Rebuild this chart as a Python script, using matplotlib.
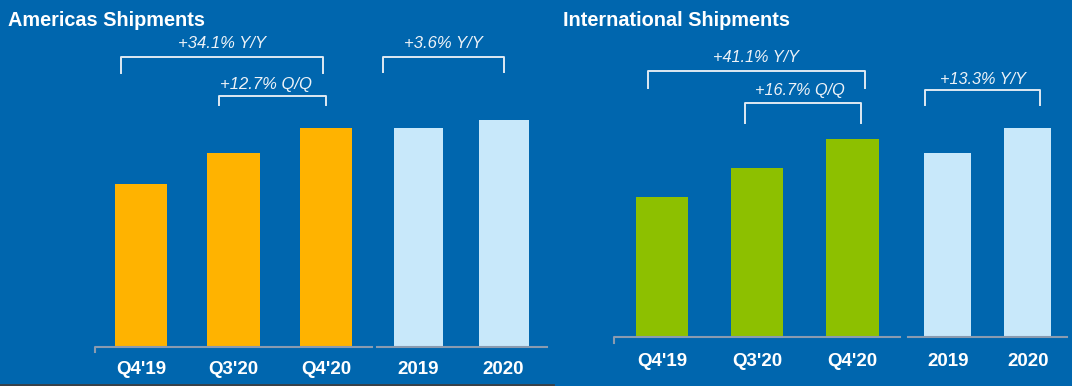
import matplotlib
matplotlib.use("Agg")
import matplotlib.pyplot as plt
from matplotlib.lines import Line2D

plt.rcParams['font.family'] = ['Liberation Sans', 'DejaVu Sans']

# ------------------------------------------------------------
# data (bar heights, same relative scale)
labels = ["Q4'19", "Q3'20", "Q4'20", "2019", "2020"]

amer_quarter = [163, 194, 219]
amer_annual = [219, 227]
intl_quarter = [140, 169, 198]
intl_annual = [184, 209]

amer_notes = ["+34.1% Y/Y", "+12.7% Q/Q", "+3.6% Y/Y"]
intl_notes = ["+41.1% Y/Y", "+16.7% Q/Q", "+13.3% Y/Y"]

# ------------------------------------------------------------
BG = '#0066ae'
ORANGE = '#ffb300'
GREEN = '#8dc000'
LIGHT = '#c8e8fa'
GRID = '#8a9bb0'
TXT = '#eef3f8'

W, H = 1072, 386
fig = plt.figure(figsize=(W / 100, H / 100), dpi=100)
fig.patch.set_facecolor(BG)


def bracket(ax, x0, x1, yb, yt):
    ax.plot([x0, x0, x1, x1], [yb, yt, yt, yb], color='#dfe9f2', lw=1.4,
            solid_joinstyle='round', clip_on=False)


def panel(rect, xlim, ylim, pos, widths, quarter, annual, qcolor,
          base, notes, note_pos, brackets, label_y, fs_note):
    ax = fig.add_axes(rect)
    ax.set_xlim(*xlim)
    ax.set_ylim(*ylim)
    ax.axis('off')

    vals = quarter + annual
    colors = [qcolor] * len(quarter) + [LIGHT] * len(annual)
    ax.bar(pos, vals, width=widths, color=colors, align='center', zorder=2)

    # baseline segments
    (l0, l1, tick), (r0, r1) = base
    ax.plot([l0, l0, l1], [tick, 0, 0], color=GRID, lw=1.5, clip_on=False)
    ax.plot([r0, r1], [0, 0], color=GRID, lw=1.5, clip_on=False)

    for x, lab in zip(pos, labels):
        ax.text(x, label_y, lab, ha='center', va='center', color='white',
                fontsize=13.5, fontweight='bold')

    for txt, (x, y) in zip(notes, note_pos):
        ax.text(x, y, txt, ha='center', va='center', color=TXT,
                fontsize=fs_note, style='italic')
    for b in brackets:
        bracket(ax, *b)
    return ax


# left panel: 1 x-unit = 92.5 px, 1 y-unit = 1 px, baseline at 347 px
panel([0, 0, 540 / W, 1], (-141 / 92.5, (540 - 141) / 92.5), (-39, 347),
      [0, 1, 2, 3, 3.92], [0.57, 0.57, 0.57, 0.54, 0.54],
      amer_quarter, amer_annual, ORANGE,
      ((-0.497, 2.497, -5), (2.551, 4.389)),
      amer_notes, [(0.876, 304), (1.346, 263), (3.27, 304)],
      [(-0.216, 1.968, 274, 290), (0.843, 2.0, 242, 251),
       (2.616, 3.924, 275, 290)],
      -23, 12)

# right panel: 1 x-unit = 95.25 px, baseline at 337 px
panel([540 / W, 0, 532 / W, 1], (-122 / 95.25, 410 / 95.25), (-49, 337),
      [0, 1, 2, 3, 3.84], [0.546, 0.546, 0.546, 0.49, 0.49],
      intl_quarter, intl_annual, GREEN,
      ((-0.504, 2.499, -6), (2.583, 4.252)),
      intl_notes, [(0.987, 279), (1.449, 246), (3.37, 258)],
      [(-0.147, 2.131, 249, 266), (0.871, 2.089, 214, 234),
       (2.761, 3.969, 232, 247)],
      -24, 11.7)

fig.text(8 / W, 1 - 20 / H, "Americas Shipments", color='white',
         fontsize=14.3, fontweight='bold', ha='left', va='center')
fig.text(563 / W, 1 - 21 / H, "International Shipments", color='white',
         fontsize=14.3, fontweight='bold', ha='left', va='center')

# thin dark edge under the left slide
fig.add_artist(Line2D([0, 553 / W], [1.5 / H, 1.5 / H], color='#3a3f45',
                      lw=2, transform=fig.transFigure))

fig.savefig("out.png", dpi=100, facecolor=BG)
